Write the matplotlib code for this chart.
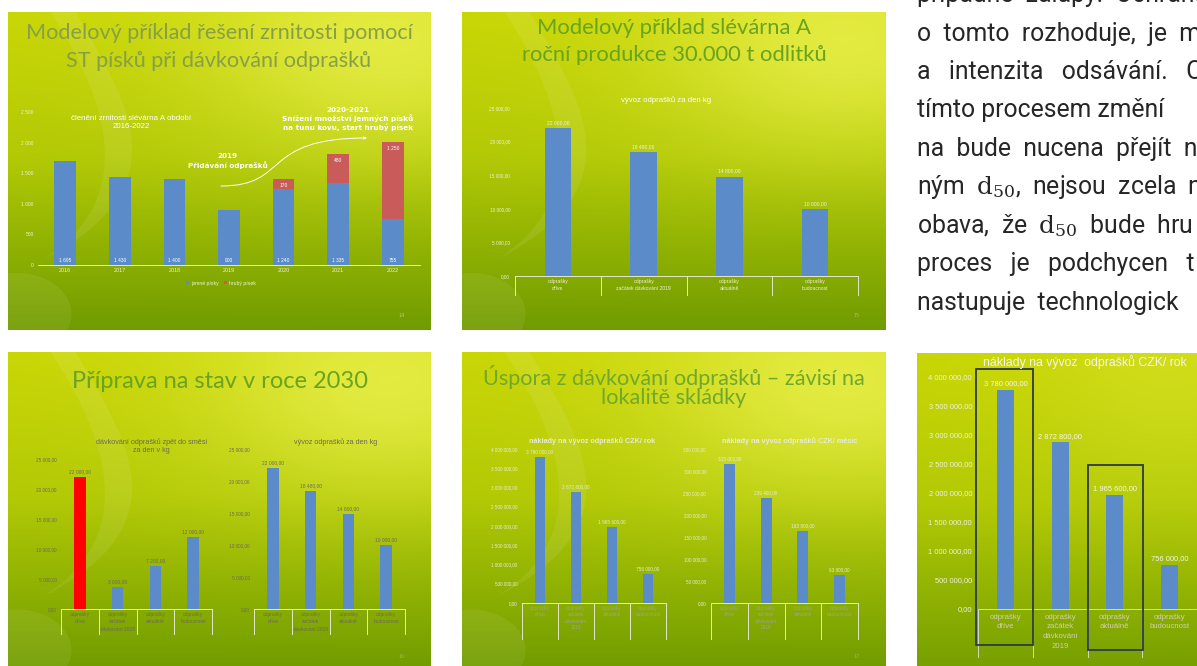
import matplotlib
matplotlib.use("Agg")
import matplotlib.pyplot as plt
import numpy as np
from matplotlib.patches import Circle, FancyArrowPatch, PathPatch, Rectangle
from matplotlib.path import Path

W, H = 1197, 666

# ---- data ----
roky = ["2016", "2017", "2018", "2019", "2020", "2021", "2022"]
jemne_pisky = [1695, 1430, 1400, 900, 1240, 1335, 755]
hruby_pisek = [0, 0, 0, 0, 170, 480, 1250]

kategorie_a = ["odprašky\ndříve", "odprašky\nzačátek dávkování 2019",
               "odprašky\naktuálně", "odprašky\nbudoucnost"]
kategorie_b = ["odprašky\ndříve", "odprašky\nzačátek\ndávkování 2019",
               "odprašky\naktuálně", "odprašky\nbudoucnost"]
kategorie_c = ["odprašky\ndříve", "odprašky\nzačátek\ndávkování\n2019",
               "odprašky\naktuálně", "odprašky\nbudoucnost"]

vyvoz_za_den = [22000, 18480, 14800, 10000]
davkovani_za_den = [22000, 3600, 7200, 12000]
naklady_rok = [3780000, 2872800, 1965600, 756000]
naklady_mesic = [315000, 239400, 163800, 63000]

# justified paragraph, cut off at the right edge of the page
odstavec = [
    "případně  zálapy.  Ochrana",
    "o  tomto  rozhoduje,  je  m",
    "a   intenzita   odsávání.   C",
    "tímto procesem změní",
    "na  bude  nucena  přejít  n",
    r"ným  $\mathrm{d}_{50}$,  nejsou  zcela  n",
    r"obava,  že  $\mathrm{d}_{50}$  bude  hru",
    "proces   je   podchycen   t",
    "nastupuje  technologick",
]

MODRA = "#5b8bc8"
CERVENA = "#c95b5b"
CHART_FONT = ["Liberation Sans", "DejaVu Sans"]
TITLE_FONT = ["Lato", "DejaVu Sans"]


def box(x0, y0, x1, y1):
    return [x0 / W, 1 - y1 / H, (x1 - x0) / W, (y1 - y0) / H]


def cz(v, dec=2):
    return f"{v:,.{dec}f}".replace(",", " ").replace(".", ",")


def ftext(fig, x, y, s, **kw):
    kw.setdefault("family", CHART_FONT)
    return fig.text(x / W, 1 - y / H, s, **kw)


def slide_background(fig, x0, y0, x1, y1, full_h=318, glow=0.75, swoosh=True):
    ax = fig.add_axes(box(x0, y0, x1, y1))
    ax.set_axis_off()
    ny, nx = int(y1 - y0), int(x1 - x0)
    yy, xx = np.mgrid[0:ny, 0:nx]
    t = (yy / full_h)[..., None]
    s = (xx / nx)[..., None]
    top = np.array([0.79, 0.84, 0.02])
    mid = np.array([0.70, 0.79, 0.02])
    bot = np.array([0.44, 0.61, 0.0])
    col = np.where(t < 0.45, top + (mid - top) * (t / 0.45),
                   mid + (bot - mid) * ((t - 0.45) / 0.55))
    d2 = ((s - 0.9) / 0.45) ** 2 + ((t - 0.1) / 0.35) ** 2
    g = np.exp(-d2) * glow
    col = col * (1 - g) + np.array([0.93, 0.95, 0.33]) * g
    ax.imshow(np.clip(col, 0, 1), extent=(0, 1, 0, 1), aspect="auto", origin="upper")
    ax.set_xlim(0, 1)
    ax.set_ylim(0, 1)
    if swoosh:
        verts = [(0.16, 1.0), (0.28, 0.72), (0.42, 0.45), (0.08, 0.22),
                 (0.30, 0.40), (0.25, 0.70), (0.10, 1.0), (0.16, 1.0)]
        codes = [Path.MOVETO, Path.CURVE4, Path.CURVE4, Path.CURVE4,
                 Path.CURVE4, Path.CURVE4, Path.CURVE4, Path.CLOSEPOLY]
        ax.add_patch(PathPatch(Path(verts, codes), facecolor="white",
                               edgecolor="none", alpha=0.08))
        ax.add_patch(Circle((0.02, 0.05), 0.13, facecolor="white",
                            edgecolor="none", alpha=0.07))
    return ax


def kategorie_graf(fig, px, hodnoty, popisky, ymax, krok, barvy, sirka,
                   hloubka, txt, val_txt, cat_txt, fs_tick, fs_val, fs_cat,
                   pad, linka="#e2e8c8", cat_gap=3, ls=1.6):
    ax = fig.add_axes(box(*px))
    ax.patch.set_visible(False)
    x = np.arange(len(hodnoty))
    ax.bar(x, hodnoty, width=sirka, color=barvy, zorder=3)
    ax.set_xlim(-0.5, len(hodnoty) - 0.5)
    ax.set_ylim(0, ymax)
    ticks = np.arange(0, ymax + 1, krok)
    ax.set_yticks(ticks, [cz(t) for t in ticks], family=CHART_FONT)
    ax.tick_params(axis="y", length=0, pad=pad, labelsize=fs_tick, labelcolor=txt)
    ax.set_xticks([])
    for side in ("top", "right", "left"):
        ax.spines[side].set_visible(False)
    ax.spines["bottom"].set_color(linka)
    ax.spines["bottom"].set_linewidth(0.7)
    tr = ax.get_xaxis_transform()
    ax_h = px[3] - px[1]
    for b in np.arange(-0.5, len(hodnoty)):
        ax.plot([b, b], [0, -hloubka / ax_h], transform=tr, color=linka,
                lw=0.7, clip_on=False)
    for xi, v in zip(x, hodnoty):
        ax.annotate(cz(v), (xi, v), xytext=(0, 2), textcoords="offset points",
                    ha="center", va="bottom", fontsize=fs_val, color=val_txt,
                    family=CHART_FONT)
    for xi, p in zip(x, popisky):
        ax.text(xi, -cat_gap / ax_h, p, transform=tr, ha="center", va="top",
                fontsize=fs_cat, color=cat_txt, linespacing=ls, family=CHART_FONT)
    return ax


def slide_zrnitost(fig):
    slide_background(fig, 8, 12, 431, 330)
    ftext(fig, 219, 47, "Modelový příklad řešení zrnitosti pomocí\nST písků při dávkování odprašků",
          ha="center", va="center", fontsize=15.6, color="#87a048",
          family=TITLE_FONT, linespacing=1.45)
    px = (38, 112, 420, 265)
    ax = fig.add_axes(box(*px))
    ax.patch.set_visible(False)
    x = np.arange(len(roky))
    b1 = ax.bar(x, jemne_pisky, width=0.4, color=MODRA, label="jemné písky")
    b2 = ax.bar(x, hruby_pisek, width=0.4, bottom=jemne_pisky, color=CERVENA,
                label="hrubý písek")
    ax.set_xlim(-0.5, len(roky) - 0.5)
    ax.set_ylim(0, 2500)
    ticks = np.arange(0, 2501, 500)
    ax.set_yticks(ticks, [cz(t, 0) for t in ticks], family=CHART_FONT)
    ax.set_xticks(x, roky, family=CHART_FONT)
    ax.tick_params(axis="y", length=0, pad=3, labelsize=3.5, labelcolor="#eef2d8")
    ax.tick_params(axis="x", length=0, pad=2.5, labelsize=3.9, labelcolor="#eef2d8")
    for side in ("top", "right", "left"):
        ax.spines[side].set_visible(False)
    ax.spines["bottom"].set_color("#e2e8c8")
    ax.spines["bottom"].set_linewidth(0.7)
    for xi, j, h in zip(x, jemne_pisky, hruby_pisek):
        ax.annotate(cz(j, 0), (xi, 0), xytext=(0, 1.5), textcoords="offset points",
                    ha="center", va="bottom", fontsize=3.5, color="white",
                    family=CHART_FONT)
        if h > 0:
            ax.annotate(cz(h, 0), (xi, j + h), xytext=(0, -3), textcoords="offset points",
                        ha="center", va="top", fontsize=3.5, color="white",
                        family=CHART_FONT)
    ax.legend(handles=[b1, b2], loc="center", bbox_to_anchor=(0.479, -0.118),
              ncol=2, frameon=False, prop={"family": CHART_FONT, "size": 3.7},
              labelcolor="#eef2d8", handlelength=0.6, handleheight=0.6,
              handletextpad=0.4, columnspacing=1.0)
    ftext(fig, 131, 122.5, "členění zrnitosti slévárna A období\n2016-2022",
          ha="center", va="center", fontsize=5.7, color="white", linespacing=1.25)
    ftext(fig, 228, 161, "2019\nPřidávání odprašků", ha="center", va="center",
          fontsize=5.2, color="white", fontweight="bold", linespacing=1.25,
          family=["DejaVu Sans"])
    ftext(fig, 348, 119,
          "2020-2021\nSnížení množství jemných písků\nna tunu kovu, start hrubý písek",
          ha="center", va="center", fontsize=5.2, color="white",
          fontweight="bold", linespacing=1.25, family=["DejaVu Sans"])
    pts = [(221, 186), (290, 186), (260, 138), (367, 138)]
    path = Path([(px_ / W, 1 - py / H) for px_, py in pts],
                [Path.MOVETO, Path.CURVE4, Path.CURVE4, Path.CURVE4])
    fig.patches.append(FancyArrowPatch(path=path, arrowstyle="-|>", mutation_scale=4,
                                       color="white", lw=0.7,
                                       transform=fig.transFigure))
    ftext(fig, 402, 315, "14", ha="center", va="center", fontsize=4,
          color="#b4c860")


def slide_slevarna(fig):
    slide_background(fig, 462, 12, 886, 330)
    ftext(fig, 674, 41.5, "Modelový příklad slévárna A\nroční produkce 30.000 t odlitků",
          ha="center", va="center", fontsize=15.8, color="#6aa31e",
          family=TITLE_FONT, linespacing=1.4)
    ftext(fig, 666, 100, "vývoz odprašků za den kg", ha="center", va="center",
          fontsize=5.6, color="white")
    kategorie_graf(fig, (515, 108, 858, 276), vyvoz_za_den, kategorie_a,
                   25000, 5000, MODRA, 0.31, 19, "#eef2d8", "#eef2d8",
                   "#eef2d8", 3.4, 3.6, 3.6, 3.6)
    ftext(fig, 857, 315, "15", ha="center", va="center", fontsize=4,
          color="#a6c050")


def slide_2030(fig):
    slide_background(fig, 8, 352, 431, 666)
    ftext(fig, 220, 381, "Příprava na stav v roce 2030", ha="center", va="center",
          fontsize=17, color="#6aa31e", family=TITLE_FONT)
    seda = "#6c6c56"
    ftext(fig, 151, 446, "dávkování odprašků zpět do směsi\nza den v kg",
          ha="center", va="center", fontsize=5.2, color=seda, linespacing=1.2)
    kategorie_graf(fig, (61, 459, 212, 609), davkovani_za_den, kategorie_b,
                   25000, 5000, ["#ff0000", MODRA, MODRA, MODRA], 0.3, 25,
                   seda, seda, seda, 3.4, 3.5, 3.5, 3)
    ftext(fig, 336, 442, "vývoz odprašků za den kg", ha="center", va="center",
          fontsize=5.2, color=seda)
    kategorie_graf(fig, (254, 449, 405, 609), vyvoz_za_den, kategorie_b,
                   25000, 5000, MODRA, 0.3, 25, seda, seda, seda,
                   3.4, 3.5, 3.5, 3)
    ftext(fig, 402, 657, "16", ha="center", va="center", fontsize=4,
          color="#9cb850")


def slide_uspora(fig):
    slide_background(fig, 462, 352, 886, 666)
    ftext(fig, 674, 386.5, "Úspora z dávkování odprašků – závisí na\nlokalitě skládky",
          ha="center", va="center", fontsize=15.6, color="#72a82a",
          family=TITLE_FONT, linespacing=0.95)
    svetla = "#e8ecd4"
    seda = "#a2a48c"
    ftext(fig, 592, 441, "náklady na vývoz odprašků CZK/ rok", ha="center",
          va="center", fontsize=5.2, color=svetla, fontweight="bold")
    kategorie_graf(fig, (522, 449, 666, 603), naklady_rok, kategorie_c,
                   4000000, 500000, MODRA, 0.3, 36, svetla, svetla, seda,
                   3.3, 3.4, 3.4, 3.5, ls=1.35)
    ftext(fig, 790, 441, "náklady na vývoz odprašků CZK/ měsíc", ha="center",
          va="center", fontsize=5.2, color=svetla, fontweight="bold")
    kategorie_graf(fig, (711, 449, 858, 603), naklady_mesic, kategorie_c,
                   350000, 50000, MODRA, 0.3, 36, svetla, svetla, seda,
                   3.3, 3.4, 3.4, 3.5, ls=1.35)
    ftext(fig, 857, 657, "17", ha="center", va="center", fontsize=4,
          color="#9cb850")


def vyrez_naklady(fig):
    slide_background(fig, 917, 353, 1197, 666, full_h=330, glow=0.25, swoosh=False)
    ftext(fig, 983, 362, "náklady na vývoz  odprašků CZK/ rok", ha="left",
          va="center", fontsize=8.8, color="#f4f6e8")
    px = (978, 377, 978 + 4 * 54.75, 609)
    ax = kategorie_graf(fig, px, naklady_rok, kategorie_c, 4000000, 500000,
                        MODRA, 0.31, 48, "#eef2dc", "#f4f6ea", "#d2cfb2",
                        5.4, 5.4, 5.6, 4.3, linka="#d4dcb0", cat_gap=5, ls=1.5)
    tr = ax.get_xaxis_transform()
    for x0, x1, y0, y1 in [(-0.53, 0.51, -0.155, 1.034), (1.51, 2.52, -0.177, 0.621)]:
        ax.add_patch(Rectangle((x0, y0), x1 - x0, y1 - y0, transform=tr,
                               fill=False, edgecolor="#2c3b4c", lw=1.3,
                               clip_on=False, zorder=5))


def main():
    fig = plt.figure(figsize=(W / 100, H / 100), dpi=100, facecolor="white")
    slide_zrnitost(fig)
    slide_slevarna(fig)
    slide_2030(fig)
    slide_uspora(fig)
    vyrez_naklady(fig)

    for i, radek in enumerate(odstavec):
        y = 2 + 38.5 * i
        fig.text(917 / W, 1 - y / H, radek, ha="left", va="baseline",
                 fontsize=17.8, color="#262626", family=["Roboto", "DejaVu Sans"],
                 math_fontfamily="dejavuserif")

    fig.savefig("out.png", dpi=100, facecolor="white")
    plt.close(fig)


if __name__ == "__main__":
    main()
